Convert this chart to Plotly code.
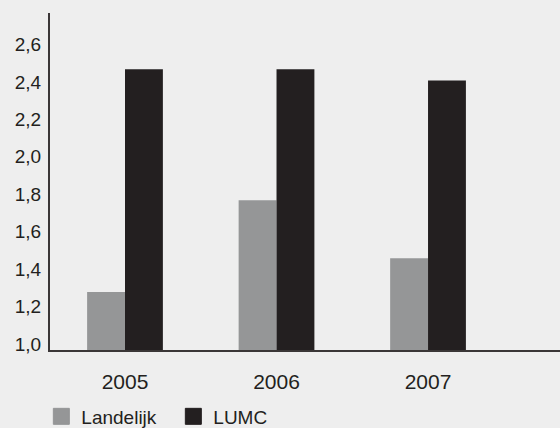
import plotly.graph_objects as go

# Data
years = ["2005", "2006", "2007"]
landelijk = [1.31, 1.80, 1.49]
lumc = [2.50, 2.50, 2.44]

y_tick_values = [1.0, 1.2, 1.4, 1.6, 1.8, 2.0, 2.2, 2.4, 2.6]
y_tick_labels = ["1,0", "1,2", "1,4", "1,6", "1,8", "2,0", "2,2", "2,4", "2,6"]

# Styling
BG = "#eeeeee"
GREY = "#959697"
BLACK = "#231f20"
TEXT = "#231f20"
AXIS = "#3a3637"
FONT = "Liberation Sans, Arial, sans-serif"

series = [("Landelijk", landelijk, GREY), ("LUMC", lumc, BLACK)]

fig = go.Figure()
for name, values, color in series:
    fig.add_trace(go.Bar(
        x=years, y=values, name=name, showlegend=False,
        marker=dict(color=color, line=dict(width=0)),
    ))
# Legend entries with larger square swatches
for name, values, color in series:
    fig.add_trace(go.Scatter(
        x=[None], y=[None], mode="markers", name=name,
        marker=dict(symbol="square", size=16, color=color,
                    line=dict(width=1, color=color)),
    ))

fig.update_layout(
    width=560, height=428,
    margin=dict(l=50, r=0, t=13, b=78),
    paper_bgcolor=BG, plot_bgcolor=BG,
    barmode="group", bargap=0.5, bargroupgap=0,
    font=dict(family=FONT, color=TEXT, size=19),
    showlegend=True,
    legend=dict(
        orientation="h", x=-0.017, xanchor="left",
        yref="container", y=0.0269, yanchor="middle",
        font=dict(size=19, color=TEXT), bgcolor="rgba(0,0,0,0)",
        itemsizing="trace", traceorder="normal",
        entrywidth=87, entrywidthmode="pixels",
    ),
)

fig.update_xaxes(
    type="category", range=[-0.495, 2.871],
    showline=True, linecolor=AXIS, linewidth=2,
    showgrid=False, zeroline=False, ticks="",
    tickfont=dict(size=21, color=TEXT), ticklabelstandoff=12,
)
fig.update_yaxes(
    range=[1.0, 2.8], tickvals=y_tick_values, ticktext=y_tick_labels,
    showline=True, linecolor=AXIS, linewidth=2,
    showgrid=False, zeroline=False, ticks="",
    tickfont=dict(size=19, color=TEXT), ticklabelshift=-6, ticklabelstandoff=3,
)

fig.write_html("out.html")
